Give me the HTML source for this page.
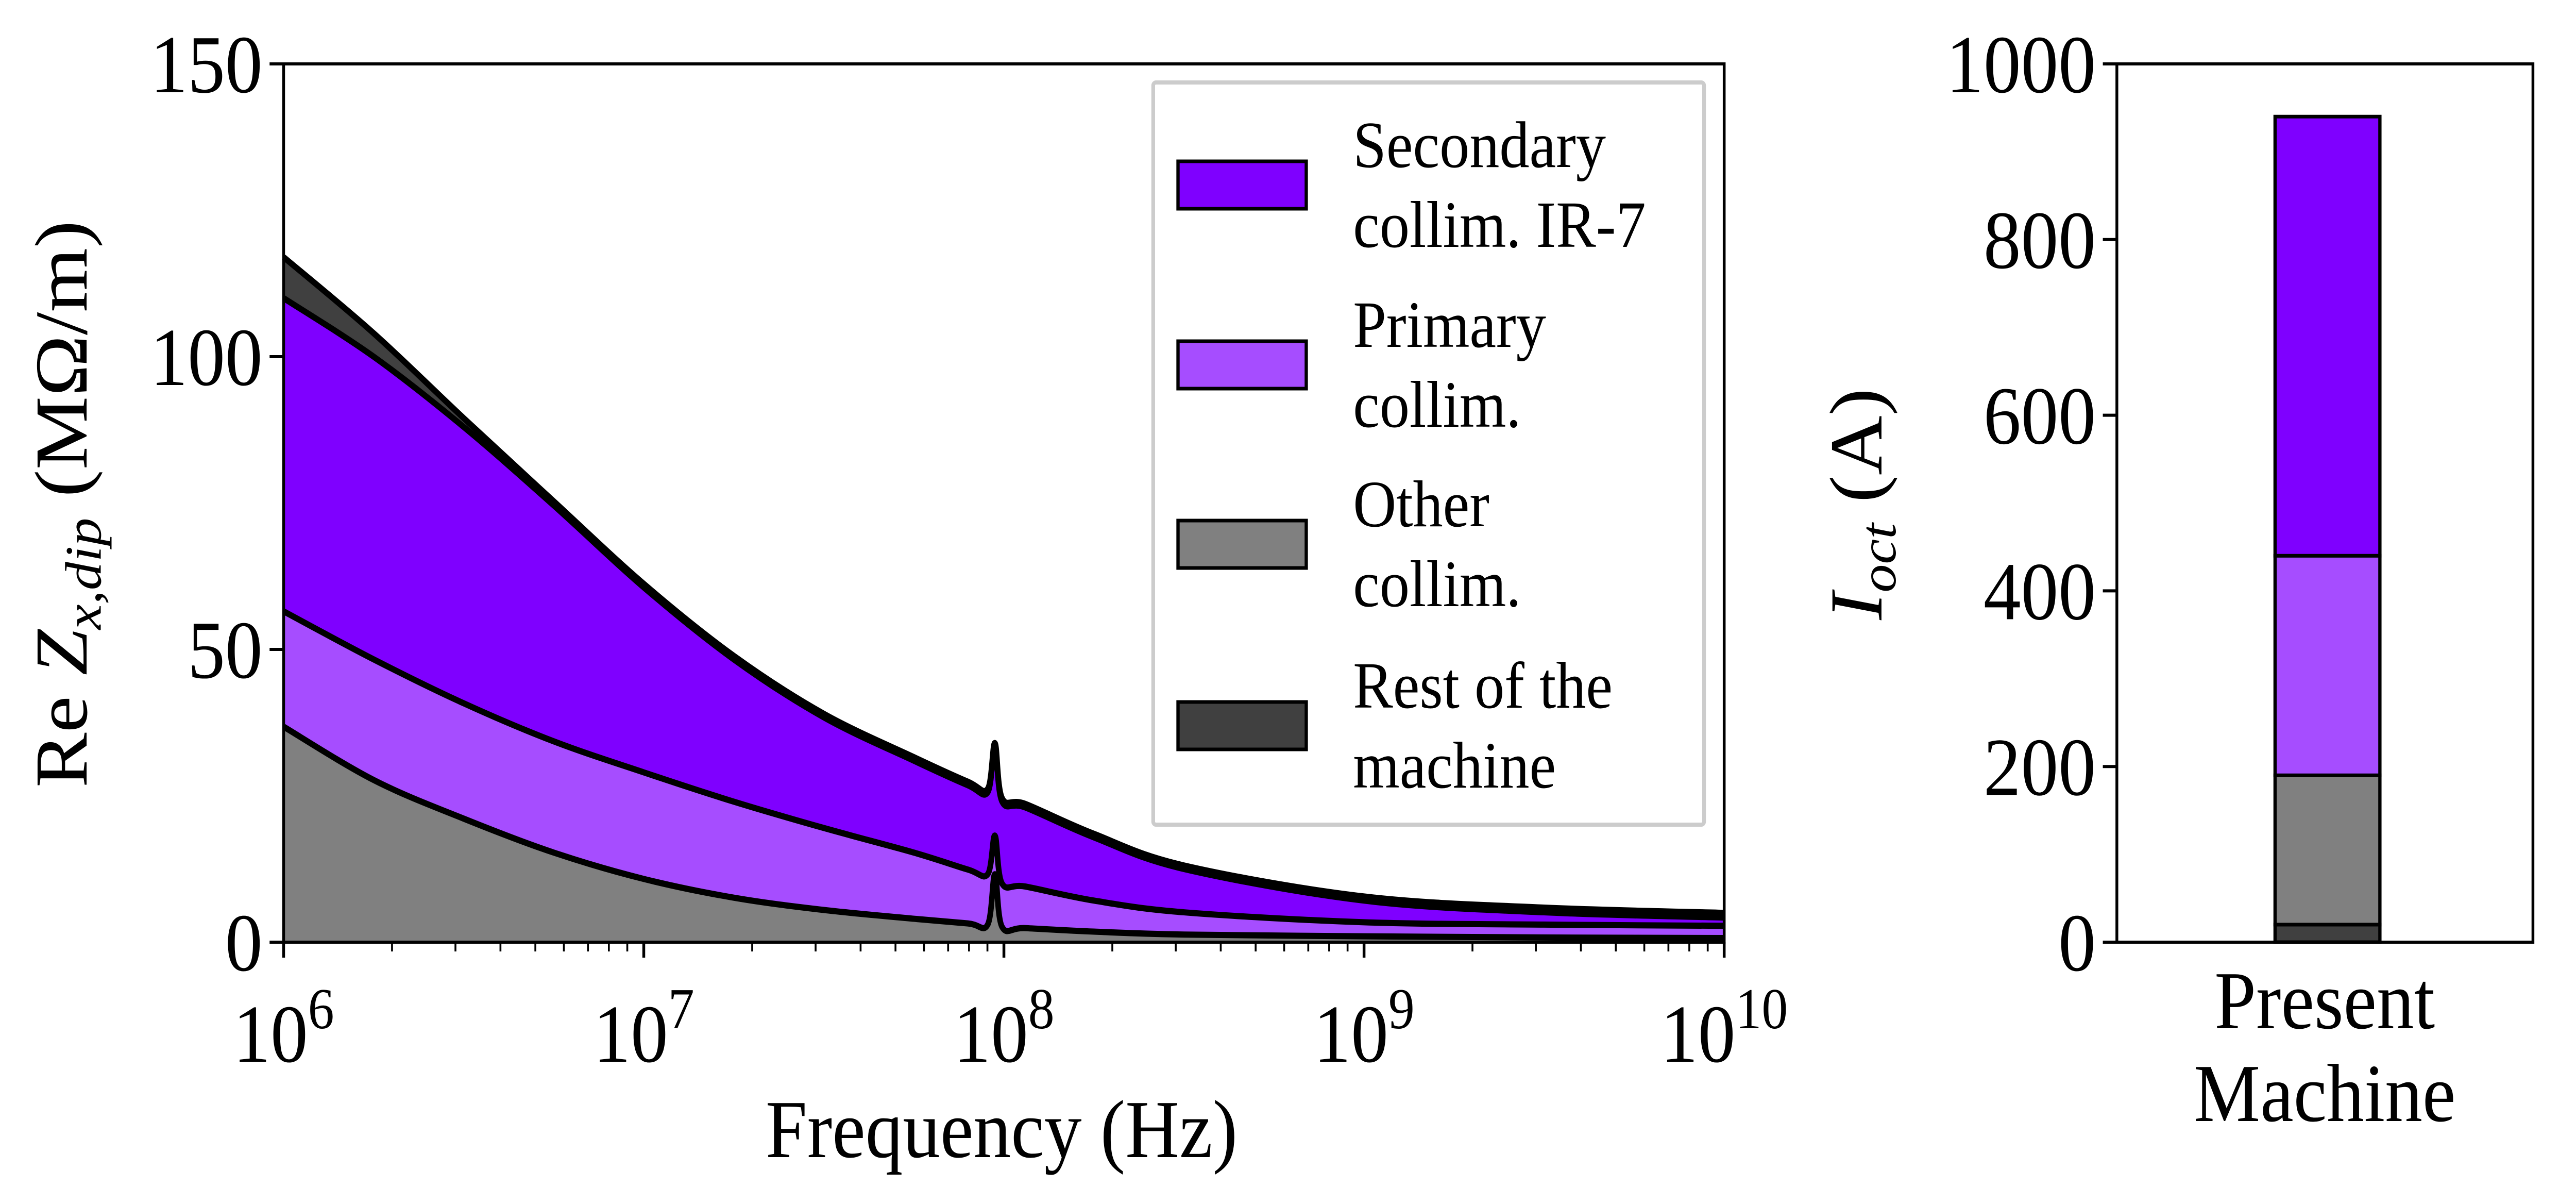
<!DOCTYPE html>
<html><head><meta charset="utf-8"><style>
html,body{margin:0;padding:0;background:#fff;overflow:hidden;width:100%;height:100%;}
svg{display:block;font-family:"Liberation Serif",serif;width:100vw;height:100vh;}
</style></head><body>
<svg id="chart" viewBox="0 0 5504 2336" preserveAspectRatio="none" xmlns="http://www.w3.org/2000/svg">
<g id="left"></g>
<g id="right"></g>
</svg>
<script>
const logFreq = [6,6.25,6.5,6.75,7,7.25,7.5,7.75,7.9,7.955,7.975,7.995,8.06,8.25,8.5,9,9.5,10];
const otherVals = [36.8,27.7,21.1,15.3,10.8,7.6,5.5,4.0,3.2,3.0,11.6,2.6,2.4,1.8,1.3,1.0,0.8,0.7];
const primaryVals = [19.7,20.6,19.7,19,18.2,16.4,14,11.3,9.2,8.6,6.6,7.4,7.1,5.3,3.8,2.4,2.2,2.1];
const secondaryVals = [53.5,51.7,47.2,40.3,31.6,24.3,18.9,15.7,14.4,14,15.2,14,13.5,10.8,7.4,3.7,2.1,1.4];
const restVals = [7,4,1.5,0.7,0.6,0.6,0.6,0.6,0.6,0.6,0.6,0.6,0.6,0.6,0.6,0.7,0.8,0.8];
const yTicksLeft = [0,50,100,150];
const xDecades = [6,7,8,9,10];
const barCategory = ["Present", "Machine"];
const barRest = 20, barOther = 170, barPrimary = 250, barSecondary = 500;
const yTicksRight = [0,200,400,600,800,1000];

const NS="http://www.w3.org/2000/svg";
function el(tag,attrs,parent,text){const e=document.createElementNS(NS,tag);for(const k in attrs)e.setAttribute(k,attrs[k]);if(text!==undefined)e.textContent=text;parent.appendChild(e);return e;}
const L={x0:606,x1:3684,y0:1828,y1:124};
const xs=v=>L.x0+(v-6)/4*(L.x1-L.x0);
const ys=v=>L.y0-v/150*(L.y0-L.y1);
const left=document.getElementById('left');

const series=[{vals:otherVals,c:'#808080',n:'area-other-collim'},{vals:primaryVals,c:'#a64dff',n:'area-primary-collim'},{vals:secondaryVals,c:'#7f00ff',n:'area-secondary-collim'},{vals:restVals,c:'#404040',n:'area-rest-of-machine'}];
let base=logFreq.map(()=>0);
function pathPts(pts){let d='M'+pts[0][0]+','+pts[0][1];for(let i=0;i<pts.length-1;i++){const p0=pts[Math.max(0,i-1)],p1=pts[i],p2=pts[i+1],p3=pts[Math.min(pts.length-1,i+2)];const c1=[p1[0]+(p2[0]-p0[0])/6,p1[1]+(p2[1]-p0[1])/6],c2=[p2[0]-(p3[0]-p1[0])/6,p2[1]-(p3[1]-p1[1])/6];d+=' C'+c1+' '+c2+' '+p2;}return d;}
const lines=[];
series.forEach(s=>{
  const top=base.map((b,i)=>b+s.vals[i]);
  const tp=logFreq.map((f,i)=>[xs(f),ys(top[i])]);
  const bp=logFreq.map((f,i)=>[xs(f),ys(base[i])]).reverse();
  const dTop=pathPts(tp);
  const dBot=pathPts(bp).replace(/^M/,'L');
  const a=el('path',{d:dTop+' '+dBot+' Z',fill:s.c,stroke:'none'},left);
  
  
  lines.push(dTop);
  base=top;
});
lines.forEach((d,i)=>{const l=el('path',{d:d,fill:'none',stroke:'#000','stroke-width':12},left);
  
  });
const fr=el('rect',{x:L.x0,y:L.y1,width:L.x1-L.x0,height:L.y0-L.y1,fill:'none',stroke:'#000','stroke-width':6},left);

yTicksLeft.forEach(t=>{const y=ys(t);
  const tk=el('line',{x1:L.x0-30,x2:L.x0,y1:y,y2:y,stroke:'#000','stroke-width':6},left);
  
  const tx=el('text',{x:L.x0-45,y:y+55,'font-size':160,'text-anchor':'end'},left,String(t));
  });
xDecades.forEach((d,i)=>{const x=xs(d);
  const tk=el('line',{x1:x,x2:x,y1:L.y0,y2:L.y0+30,stroke:'#000','stroke-width':6},left);
  
  const tx=el('text',{x:x,y:2060,'font-size':160,'text-anchor':'middle'},left);
  
  el('tspan',{},tx,'10');el('tspan',{dy:-65,'font-size':112},tx,String(d));
  if(i<xDecades.length-1)for(let m=2;m<10;m++){const mx=xs(d+Math.log10(m));
    const mt=el('line',{x1:mx,x2:mx,y1:L.y0,y2:L.y0+18,stroke:'#000','stroke-width':4},left);
    }
});
const xl=el('text',{x:2140,y:2245,'font-size':160,'text-anchor':'middle'},left,'Frequency (Hz)');

const yl=el('text',{x:0,y:0,'font-size':160,'text-anchor':'middle',transform:'translate(185,978) rotate(-90)'},left);

el('tspan',{},yl,'Re ');el('tspan',{'font-style':'italic'},yl,'Z');el('tspan',{'font-size':110,'font-style':'italic',dy:30},yl,'x,dip');el('tspan',{dy:-30},yl,' (MΩ/m)');
const lg=el('g',{},left);
el('rect',{x:2464,y:160,width:1177,height:1440,fill:'#fff',stroke:'#ccc','stroke-width':8,rx:6},lg);
const legItems=[['Secondary','collim. IR-7','#7f00ff',359],['Primary','collim.','#a64dff',708],['Other','collim.','#808080',1056],['Rest of the','machine','#404040',1408]];
legItems.forEach(it=>{const g=el('g',{},lg);
  el('rect',{x:2517,y:it[3]-46,width:274,height:92,fill:it[2],stroke:'#000','stroke-width':7},g);
  el('text',{x:2891,y:it[3]-35,'font-size':128},g,it[0]);
  el('text',{x:2891,y:it[3]+120,'font-size':128},g,it[1]);});

const R={x0:4523,x1:5412,y0:1828,y1:124};
const ry=v=>R.y0-v/1000*(R.y0-R.y1);
const right=document.getElementById('right');
let acc=0;
[[barRest,'#404040','bar-rest-of-machine'],[barOther,'#808080','bar-other-collim'],[barPrimary,'#a64dff','bar-primary-collim'],[barSecondary,'#7f00ff','bar-secondary-collim']].forEach(b=>{
  const r=el('rect',{x:4861,y:ry(acc+b[0]),width:224,height:ry(acc)-ry(acc+b[0]),fill:b[1],stroke:'#000','stroke-width':7},right);
  acc+=b[0];});
const fr2=el('rect',{x:R.x0,y:R.y1,width:R.x1-R.x0,height:R.y0-R.y1,fill:'none',stroke:'#000','stroke-width':6},right);

yTicksRight.forEach(t=>{const y=ry(t);
  const tk=el('line',{x1:R.x0-30,x2:R.x0,y1:y,y2:y,stroke:'#000','stroke-width':6},right);
  
  const tx=el('text',{x:R.x0-45,y:y+55,'font-size':160,'text-anchor':'end'},right,String(t));
  });
barCategory.forEach((c,i)=>{const t=el('text',{x:4967,y:1995+i*180,'font-size':160,'text-anchor':'middle'},right,c);
  });
const ryl=el('text',{x:0,y:0,'font-size':160,'text-anchor':'middle',transform:'translate(4020,978) rotate(-90)'},right);

el('tspan',{'font-style':'italic'},ryl,'I');el('tspan',{'font-size':110,'font-style':'italic',dy:30},ryl,'oct');el('tspan',{dy:-30},ryl,' (A)');
</script>
</body></html>
